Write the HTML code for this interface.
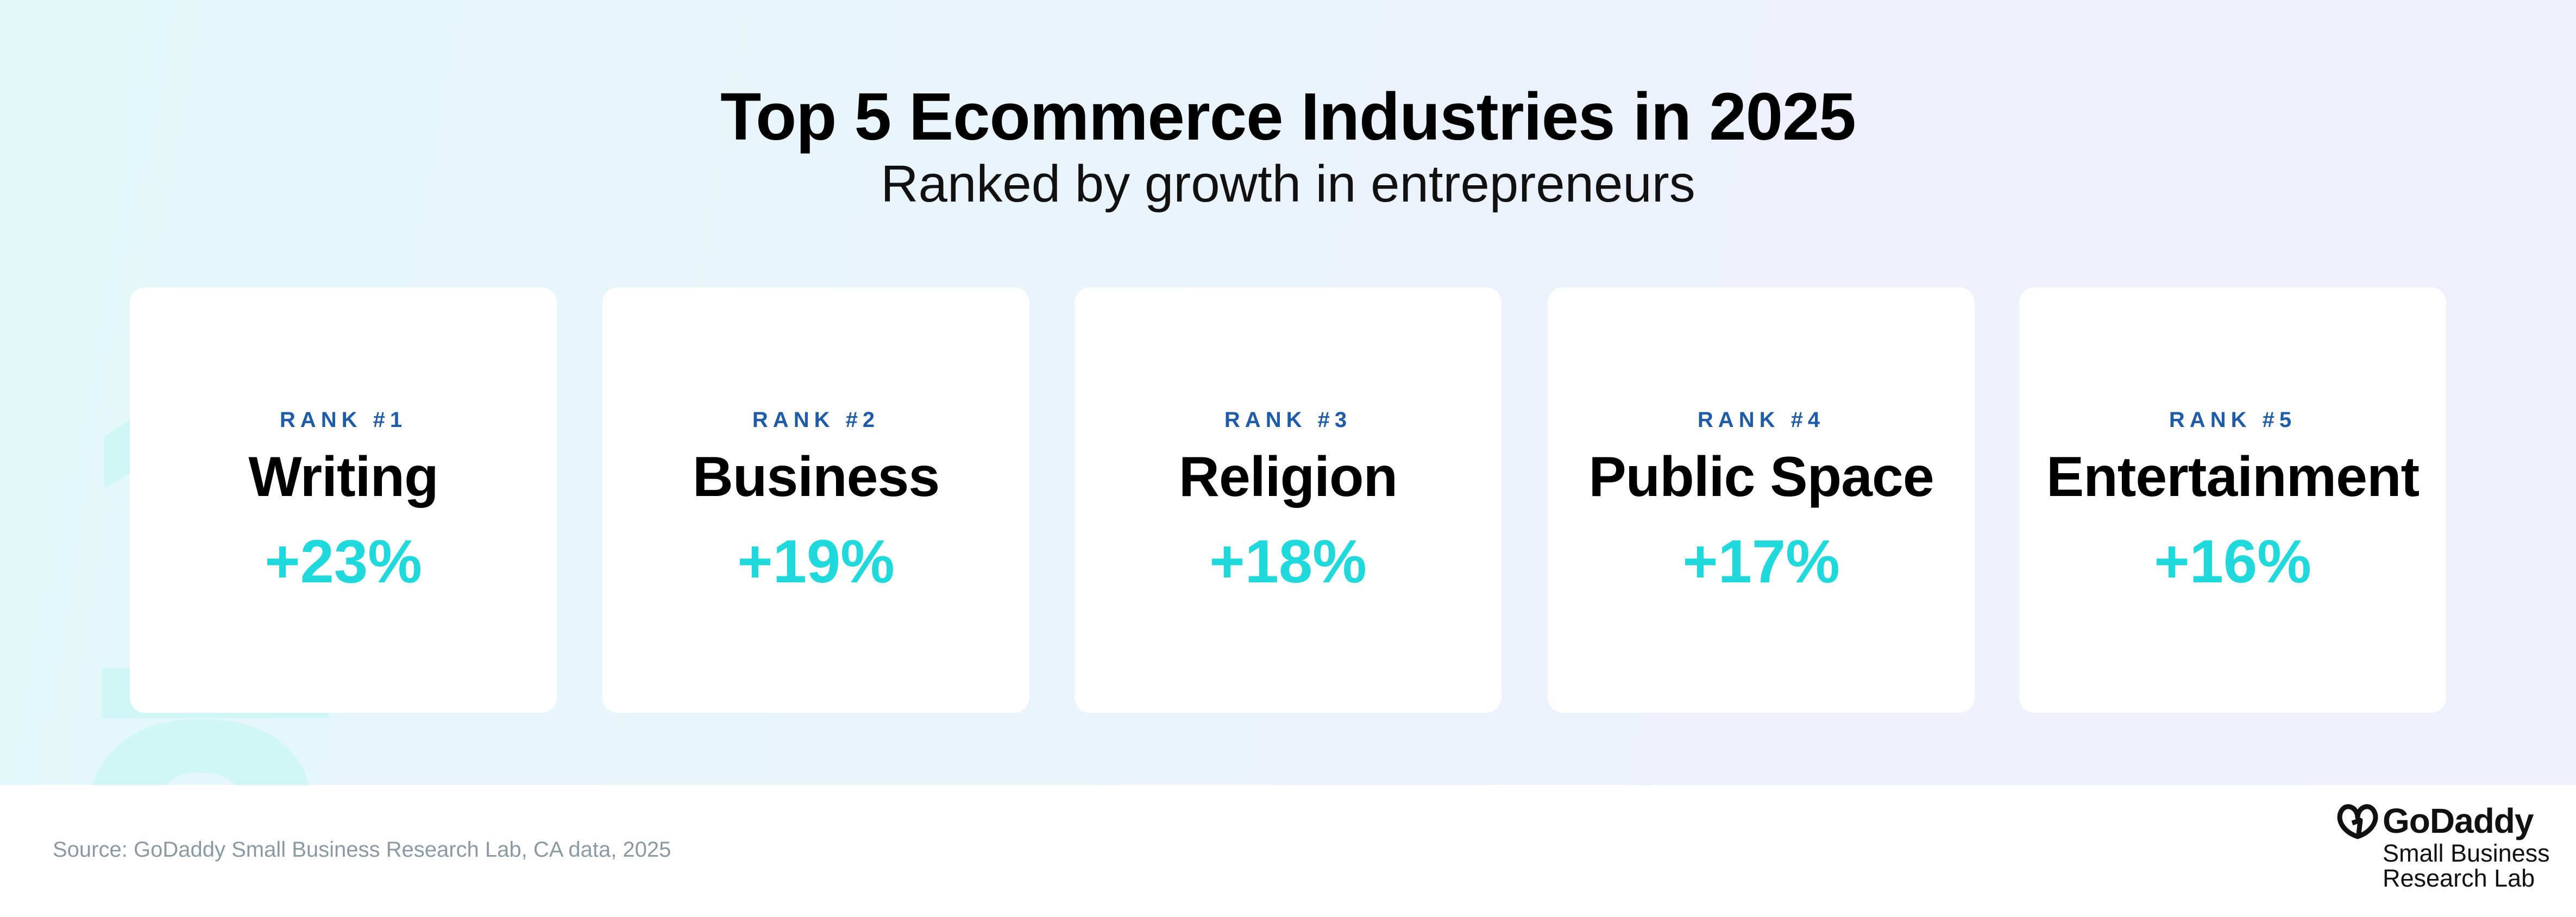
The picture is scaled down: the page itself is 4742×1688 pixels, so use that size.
<!DOCTYPE html>
<html style="overflow:hidden"><head><meta charset="utf-8"><style>
html,body{margin:0;width:4742px;height:1688px;overflow:hidden}
body{font-family:"Liberation Sans",sans-serif;background:#fff;position:relative}
.bg{position:absolute;left:0;top:0;width:4742px;height:1445px;background:linear-gradient(100deg,#e2f8f9 0%,#e9f5fb 35%,#eef0fc 70%,#eff0fc 100%);overflow:hidden}
.big{position:absolute;font-weight:bold;color:#d0f6f6;font-size:900px;line-height:900px;height:900px}
h1{position:absolute;top:146px;left:0;width:4742px;text-align:center;margin:0;font-size:123px;line-height:140px;font-weight:bold;color:#000;letter-spacing:-1px}
h2{position:absolute;top:284px;left:0;width:4742px;text-align:center;margin:0;font-size:96px;line-height:110px;font-weight:normal;color:#111}
.card{position:absolute;top:529px;width:786px;height:783px;background:#fff;border-radius:28px;text-align:center}
.r{position:absolute;top:222px;width:100%;font-size:40px;font-weight:bold;letter-spacing:9px;color:#1e5ba8}
.n{position:absolute;top:290px;width:100%;font-size:104px;font-weight:bold;color:#000;letter-spacing:-1px}
.p{position:absolute;top:440px;width:100%;font-size:112px;font-weight:bold;color:#1fd9dc}
.src{position:absolute;left:97px;top:1542px;font-size:40px;color:#8a9aa3}
.logo{position:absolute;left:4300px;top:1476px;width:420px;height:200px}
</style></head><body>
<div class="bg">
<div class="big" style="left:130px;top:560px">1</div>
<div class="big" style="left:120px;top:1190px">2</div>
</div>
<h1>Top 5 Ecommerce Industries in 2025</h1>
<h2>Ranked by growth in entrepreneurs</h2>
<div class="card" style="left:239px"><div class="r">RANK #1</div><div class="n">Writing</div><div class="p">+23%</div></div>
<div class="card" style="left:1109px"><div class="r">RANK #2</div><div class="n">Business</div><div class="p">+19%</div></div>
<div class="card" style="left:1978px"><div class="r">RANK #3</div><div class="n">Religion</div><div class="p">+18%</div></div>
<div class="card" style="left:2849px"><div class="r">RANK #4</div><div class="n">Public Space</div><div class="p">+17%</div></div>
<div class="card" style="left:3717px"><div class="r">RANK #5</div><div class="n">Entertainment</div><div class="p">+16%</div></div>
<div class="src">Source: GoDaddy Small Business Research Lab, CA data, 2025</div>
<div class="logo">
<svg width="80" height="70" style="position:absolute;left:0;top:4px" viewBox="0 0 80 70"><path d="M40 60 C10 50 0 25 12 10 C22 -2 40 8 40 25 C40 8 58 -2 68 10 C80 25 70 50 40 60Z M30 35 L45 30 L42 55" fill="none" stroke="#111" stroke-width="9" stroke-linejoin="round"/></svg>
<div style="position:absolute;left:86px;top:-2px;font-size:64px;font-weight:bold;color:#111;white-space:nowrap;letter-spacing:-1px">GoDaddy</div>
<div style="position:absolute;left:86px;top:72px;font-size:45px;color:#111;white-space:nowrap;line-height:46px">Small Business<br>Research Lab</div>
</div>
</body></html>
